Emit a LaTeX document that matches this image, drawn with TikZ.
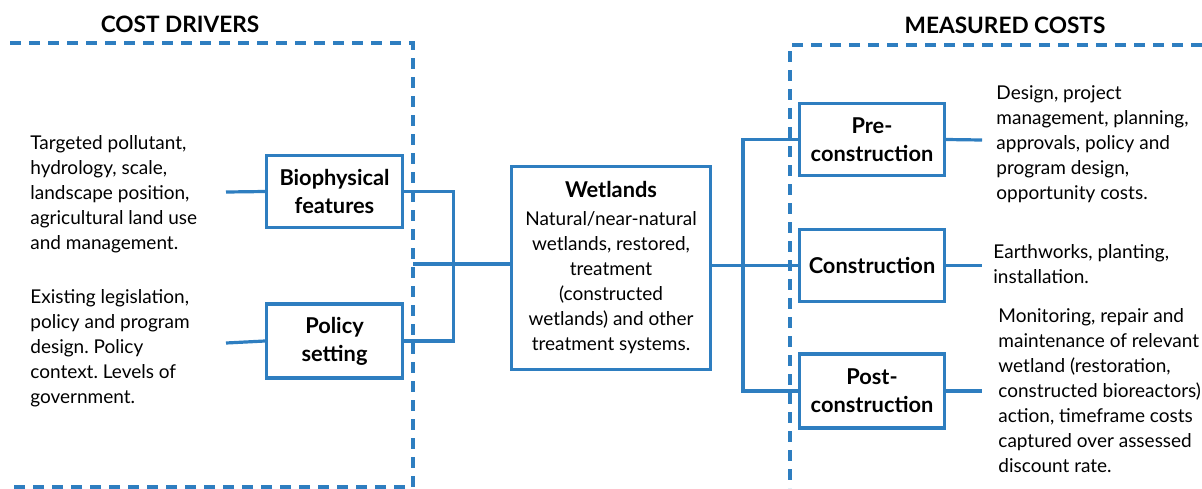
\documentclass[tikz,border=0pt]{standalone}
\usepackage{fontspec}
\setmainfont{Lato}
\usetikzlibrary{positioning}
\definecolor{frame blue}{RGB}{46,126,192}
\frenchspacing
\tikzset{
    % Colors
    frame color/.style={color=frame blue},
    %
    % Boxes and texts
    stage box/.style={draw=frame blue,line width=1.6pt,text=black,align=center,inner sep=0pt,
        font=\bfseries\fontsize{10.9}{14}\selectfont,minimum width=#1},
    stage box/.default=68pt,
    note/.style={align=left,anchor=north west,inner sep=0pt},
    heading/.style={font=\bfseries\fontsize{11.3}{13}\selectfont},
    %
    % Lines
    link/.style={frame color,line width=1.6pt},
    region/.style={frame color,line width=1.6pt,dash pattern=on 5.5pt off 4pt},
}
\tikzstyle{every node}=[font=\fontsize{9.5}{12.5}\selectfont]

\begin{document}
\begin{tikzpicture}[x=0.5pt,y=-0.5pt]
    \useasboundingbox (0,0) rectangle (1202,488);
    % dashed regions
    \draw[region] (10,43) -| (413,487) -- (10,487);
    \draw[region] (1202,45) -| (790,488);
    \node[heading] (drivers title) at (180,24) {COST DRIVERS};
    \node[heading] (costs title) at (1005,25) {MEASURED COSTS};
    % drivers
    \node[stage box,minimum height=36pt] (bio) at (334.5,191.5) {Biophysical\\features};
    \node[stage box,minimum height=37pt] (policy) at (334.5,341) {Policy\\setting};
    \node[note] (bio text) at (30,135) {Targeted pollutant,\\hydrology, scale,\\landscape position,\\agricultural land use\\and management.};
    \node[note] (policy text) at (30,289) {Existing legislation,\\policy and program\\design. Policy\\context. Levels of\\government.};
    \coordinate (bio lead) at (226,192);
    \coordinate (policy lead) at (226,343);
    \draw[link] (bio lead) -- (bio.west);
    \draw[link] (policy lead) -- (policy.west);
    \draw[link] (bio.east) -- ++(49,0) |- (policy.east);
    % wetlands
    \node[stage box=99.5pt,minimum height=101.5pt,font=\fontsize{9.5}{12.5}\selectfont] (wet) at (611,268)
        {{\bfseries\fontsize{10.9}{12.5}\selectfont Wetlands}\\[1.5pt]Natural/near-natural\\wetlands, restored,\\treatment\\(constructed\\wetlands) and other\\treatment systems.};
    \coordinate (left join) at (413,264);
    \draw[link] (left join) -- (left join -| wet.west);
    % measured costs
    \node[stage box=72.5pt,minimum height=36pt] (pre) at (872,139.5) {Pre-\\construction};
    \node[stage box=72.5pt,minimum height=36pt] (con) at (872,265.5) {Construction};
    \node[stage box=72.5pt,minimum height=37pt] (post) at (872,391) {Post-\\construction};
    \draw[link] (wet.east |- con.west) -- (con.west);
    \draw[link] (pre.west) -- ++(-55,0) |- (post.west);
    \node[note] (pre text) at (996,85) {Design, project\\management, planning,\\approvals, policy and\\program design,\\opportunity costs.};
    \node[note] (con text) at (993,244) {Earthworks, planting,\\installation.};
    \node[note] (post text) at (998,308) {Monitoring, repair and\\maintenance of relevant\\wetland (restoration,\\constructed bioreactors)\\action, timeframe costs\\captured over assessed\\discount rate.};
    \coordinate (pre lead) at (982,140);
    \coordinate (con lead) at (982,265.5);
    \coordinate (post lead) at (982,391);
    \draw[link] (pre.east) -- (pre lead);
    \draw[link] (con.east) -- (con lead);
    \draw[link] (post.east) -- (post lead);
\end{tikzpicture}
\end{document}
